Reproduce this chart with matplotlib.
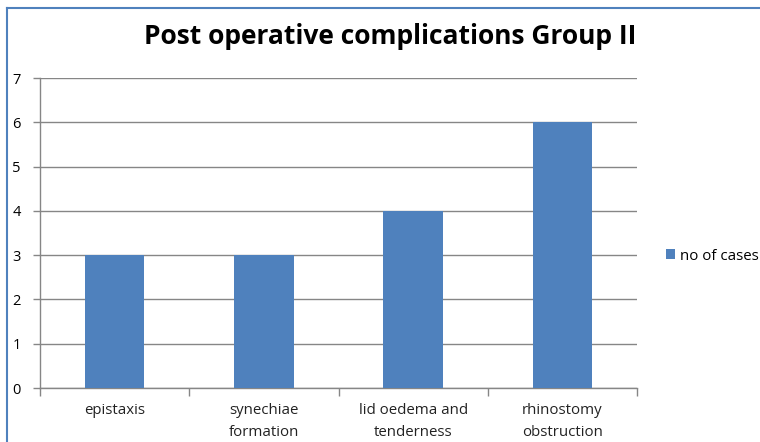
import matplotlib
matplotlib.use("Agg")
import matplotlib.pyplot as plt
from matplotlib.lines import Line2D
import numpy as np

categories = ["epistaxis", "synechiae\nformation", "lid oedema and\ntenderness", "rhinostomy\nobstruction"]
values = [3, 3, 4, 6]
series_name = "no of cases"
yticks = [0, 1, 2, 3, 4, 5, 6, 7]
title = "Post operative complications Group II"

plt.rcParams['font.family'] = ['Open Sans', 'DejaVu Sans']

fig = plt.figure(figsize=(7.6, 4.42), dpi=100)
ax = fig.add_axes([40/760, 1-388/442, (637-40)/760, (388-78)/442])

x = np.arange(len(categories))
bars = ax.bar(x, values, width=0.4, color="#4F81BD", label=series_name, zorder=3)

ax.set_xlim(-0.5, len(categories) - 0.5)
ax.set_ylim(0, 7)
ax.set_yticks(yticks)
ax.set_yticklabels([str(t) for t in yticks], fontsize=10.5, color="#000000")
ax.yaxis.grid(True, color="#868686", linewidth=1, zorder=0)
ax.tick_params(axis='y', length=5, width=1, color="#868686", pad=9)

ax.set_xticks(x)
ax.set_xticklabels(categories, fontsize=10.8, linespacing=1.6, color="#222222")
ax.tick_params(axis='x', which='major', length=0, pad=11)
ax.set_xticks(np.arange(-0.5, len(categories)), minor=True)
ax.tick_params(axis='x', which='minor', length=6, width=1, color="#868686")

for s in ['top', 'right']:
    ax.spines[s].set_visible(False)
for s in ['left', 'bottom']:
    ax.spines[s].set_color("#868686")
    ax.spines[s].set_linewidth(1)

fig.text(390/760, 1-37/442, title, ha='center', va='center', fontsize=19, fontweight='bold')

leg = fig.legend(handles=[bars], labels=[series_name], loc='center left',
                 bbox_to_anchor=(666/760, 1-256/442), frameon=False, fontsize=10.8,
                 handlelength=0.6, handleheight=0.6, handletextpad=0.3, borderaxespad=0,
                 borderpad=0)

# chart border (left and top visible)
fig.add_artist(Line2D([7/760, 7/760], [0, 1-8/442], transform=fig.transFigure, color="#4F81BD", linewidth=1.5))
fig.add_artist(Line2D([7/760, 1], [1-8/442, 1-8/442], transform=fig.transFigure, color="#4F81BD", linewidth=1.5))

fig.savefig("out.png", dpi=100)
